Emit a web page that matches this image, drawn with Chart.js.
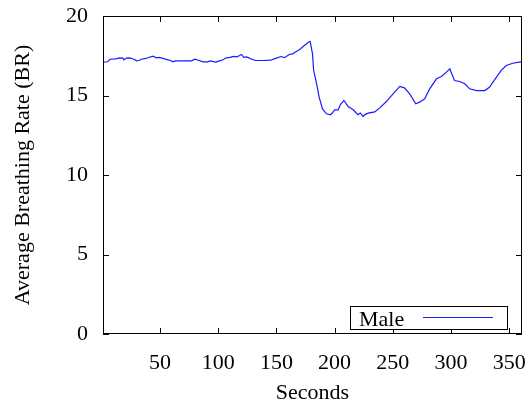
<!DOCTYPE html>
<html>
<head>
<meta charset="utf-8">
<script src="https://cdn.jsdelivr.net/npm/chart.js@4/dist/chart.umd.min.js"></script>
<style>
  body { margin: 0; background: #fff; }
  canvas { display: block; }
</style>
</head>
<body>
<canvas id="brChart" width="531" height="404"></canvas>
<script>
// data
const seconds = [1, 5, 7, 12, 15, 18, 19, 21, 24, 27, 30, 32, 34, 38, 40, 44, 47, 49, 51, 54,
    56, 59, 61, 63, 70, 77, 80, 83, 87, 91, 93, 95, 98, 101, 104, 107, 110, 113, 116, 118,
    120, 122, 124, 126, 128, 129, 132, 139, 145, 150, 154, 157, 161, 164, 166, 170, 174, 178, 179, 181,
    182, 184.5, 186.7, 189.6, 193, 196.5, 198, 200, 203, 205, 208, 211.6, 216, 220, 222, 224.5, 226, 228.8, 234.5, 238.8,
    244.5, 250.2, 256, 260, 264.5, 269.7, 273, 277.4, 281.7, 287.5, 291.8, 296, 299, 303, 307.5, 311.8, 316, 322, 329, 333,
    338, 343, 347.5, 353, 358.7, 361];
const maleBR = [17.1, 17.12, 17.28, 17.3, 17.37, 17.35, 17.24, 17.35, 17.37, 17.3, 17.18, 17.2, 17.28, 17.33, 17.39, 17.47, 17.37, 17.4, 17.37, 17.3,
    17.26, 17.2, 17.12, 17.18, 17.18, 17.18, 17.28, 17.22, 17.12, 17.12, 17.18, 17.15, 17.1, 17.18, 17.25, 17.37, 17.4, 17.46, 17.43, 17.5,
    17.58, 17.4, 17.43, 17.38, 17.3, 17.28, 17.2, 17.2, 17.22, 17.35, 17.45, 17.38, 17.58, 17.62, 17.72, 17.9, 18.14, 18.38, 18.4, 17.62,
    16.57, 15.74, 14.9, 14.16, 13.85, 13.79, 13.9, 14.1, 14.1, 14.43, 14.69, 14.3, 14.1, 13.79, 13.9, 13.68, 13.8, 13.89, 13.97, 14.22,
    14.62, 15.1, 15.57, 15.48, 15.1, 14.48, 14.58, 14.79, 15.42, 16.05, 16.2, 16.47, 16.68, 15.94, 15.88, 15.74, 15.42, 15.31, 15.31, 15.52,
    16.05, 16.57, 16.89, 17.03, 17.1, 17.12];
const xTicks = [50, 100, 150, 200, 250, 300, 350];
const yTicks = [0, 5, 10, 15, 20];

const font = { family: 'Liberation Serif', size: 22, lineHeight: 1 };

// gnuplot style box with inward ticks on all four sides
const frame = {
    id: 'frame',
    afterDatasetsDraw(chart) {
        const { ctx, chartArea: a, scales: { x, y } } = chart;
        const len = 6;
        ctx.save();
        ctx.strokeStyle = '#000';
        ctx.lineWidth = 1;
        ctx.beginPath();
        xTicks.forEach(v => {
            const px = Math.round(x.getPixelForValue(v)) + 0.5;
            ctx.moveTo(px, a.bottom); ctx.lineTo(px, a.bottom - len);
            ctx.moveTo(px, a.top); ctx.lineTo(px, a.top + len);
        });
        yTicks.forEach(v => {
            const py = Math.round(y.getPixelForValue(v)) + 0.5;
            ctx.moveTo(a.left, py); ctx.lineTo(a.left + len, py);
            ctx.moveTo(a.right, py); ctx.lineTo(a.right - len, py);
        });
        ctx.stroke();
        ctx.strokeRect(Math.round(a.left) + 0.5, Math.round(a.top) + 0.5,
            Math.round(a.width) - 1, Math.round(a.height) - 1);
        ctx.restore();
    }
};

// legend box in the lower right corner
const keyBox = {
    id: 'keyBox',
    afterDraw(chart) {
        const { ctx, chartArea: a } = chart;
        const ds = chart.data.datasets[0];
        const right = a.right - 15, bottom = a.bottom - 5;
        const w = 157, h = 23;
        ctx.save();
        ctx.fillStyle = '#fff';
        ctx.fillRect(right - w, bottom - h, w, h);
        ctx.strokeStyle = '#000';
        ctx.lineWidth = 1;
        ctx.strokeRect(Math.round(right - w) + 0.5, Math.round(bottom - h) + 0.5, w, h);
        ctx.fillStyle = '#000';
        ctx.font = '22px "Liberation Serif"';
        ctx.textBaseline = 'alphabetic';
        ctx.fillText(ds.label, right - w + 9, bottom - 3);
        ctx.strokeStyle = ds.borderColor;
        ctx.lineWidth = ds.borderWidth;
        ctx.beginPath();
        ctx.moveTo(right - 84, bottom - 11.5);
        ctx.lineTo(right - 14, bottom - 11.5);
        ctx.stroke();
        ctx.restore();
    }
};

new Chart(document.getElementById('brChart'), {
    type: 'line',
    data: {
        datasets: [{
            label: 'Male',
            data: seconds.map((s, i) => ({ x: s, y: maleBR[i] })),
            borderColor: '#1a1aff',
            borderWidth: 1.2,
            pointRadius: 0,
            tension: 0,
            fill: false
        }]
    },
    options: {
        responsive: false,
        animation: false,
        layout: { padding: { top: 16, right: 9, left: 0, bottom: 0 } },
        plugins: { legend: { display: false }, tooltip: { enabled: false } },
        scales: {
            x: {
                type: 'linear',
                min: 1,
                max: 361,
                afterBuildTicks: s => { s.ticks = xTicks.map(v => ({ value: v })); },
                afterFit: s => { s.height = 70; s.paddingLeft = 0; s.paddingRight = 0; },
                grid: { display: false, drawTicks: false },
                border: { display: false },
                ticks: { color: '#000', font, padding: 18, maxRotation: 0 },
                title: { display: true, text: 'Seconds', color: '#000', font, padding: { top: 0, bottom: 0 } }
            },
            y: {
                min: 0,
                max: 20,
                afterBuildTicks: s => { s.ticks = yTicks.map(v => ({ value: v })); },
                afterFit: s => { s.width = 103; s.paddingTop = 0; s.paddingBottom = 0; },
                grid: { display: false, drawTicks: false },
                border: { display: false },
                ticks: { color: '#000', font, padding: 15 },
                title: { display: true, text: 'Average Breathing Rate (BR)', color: '#000', font, padding: { top: 12, bottom: 0 } }
            }
        }
    },
    plugins: [frame, keyBox]
});
</script>
</body>
</html>
